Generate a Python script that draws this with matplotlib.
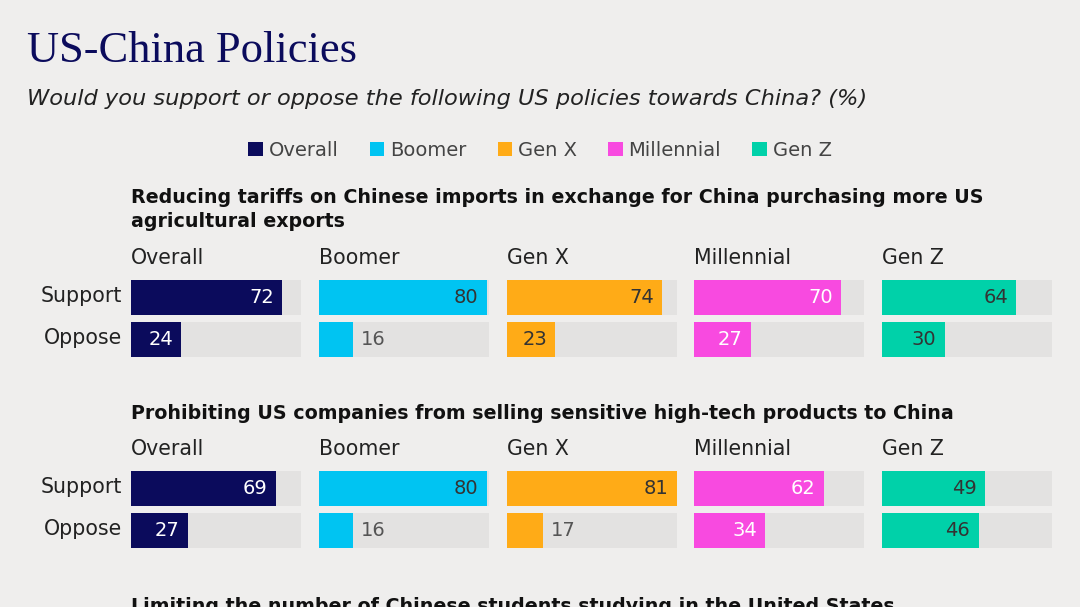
import matplotlib.pyplot as plt
from matplotlib.patches import Patch

groups = ['Overall', 'Boomer', 'Gen X', 'Millennial', 'Gen Z']
answers = ['Support', 'Oppose']
questions = [
    'Reducing tariffs on Chinese imports in exchange for China purchasing more US\nagricultural exports',
    'Prohibiting US companies from selling sensitive high-tech products to China',
    'Limiting the number of Chinese students studying in the United States',
]
# support / oppose per group, one list per question
support = [
    [72, 80, 74, 70, 64],
    [69, 80, 81, 62, 49],
]
oppose = [
    [24, 16, 23, 27, 30],
    [27, 16, 17, 34, 46],
]

colors = ['#0b0b5c', '#00c4f2', '#ffab17', '#f84ae0', '#00d1a9']
text_on_bar = ['white', '#333333', '#333333', 'white', '#333333']
BG = '#efeeed'
TRACK = '#e3e2e1'
W, H = 1080, 607


def fx(px):
    return px / W


def fy(px):
    return 1 - px / H


def main():
    plt.rcParams['font.family'] = ['DejaVu Sans']
    fig = plt.figure(figsize=(W / 100, H / 100), dpi=100, facecolor=BG)

    fig.text(fx(27), fy(51), 'US-China Policies', family='Liberation Serif',
             fontsize=32, color='#0b0b5c', va='center', ha='left')
    fig.text(fx(27), fy(99), 'Would you support or oppose the following US policies towards China? (%)',
             fontsize=16.2, style='italic', color='#222222', va='center', ha='left')

    handles = [Patch(facecolor=c, edgecolor='none') for c in colors]
    leg = fig.legend(handles, groups, loc='center', bbox_to_anchor=(0.5, fy(150)), ncol=5,
                     frameon=False, fontsize=14, handlelength=0.75, handleheight=0.75,
                     handletextpad=0.3, columnspacing=1.6)
    for t in leg.get_texts():
        t.set_color('#444444')

    xmax = max(max(max(s) for s in support), max(max(o) for o in oppose))
    header_y = [197, 413, 606]
    top_y = [280, 471]
    lefts = [131, 319, 507, 694, 882]
    pw = 170

    for qi, q in enumerate(questions):
        fig.text(fx(131), fy(header_y[qi] - 9), q, fontsize=13.7, weight='bold',
                 color='#111111', va='top', ha='left', linespacing=1.35)
        if qi >= len(support):
            continue
        top = top_y[qi]
        for gi, g in enumerate(groups):
            ax = fig.add_axes([fx(lefts[gi]), fy(top + 77), fx(pw), 77 / H])
            ax.set_facecolor('none')
            vals = [support[qi][gi], oppose[qi][gi]]
            ypos = [0, 1]
            ax.barh(ypos, [xmax, xmax], height=35 / 42, color=TRACK)
            ax.barh(ypos, vals, height=35 / 42, color=colors[gi])
            ax.set_xlim(0, xmax)
            ax.set_ylim(1 + 17.5 / 42, -17.5 / 42)
            ax.axis('off')
            for y, v in zip(ypos, vals):
                if v >= 20:
                    ax.text(v - 4, y, str(v), ha='right', va='center', fontsize=14,
                            color=text_on_bar[gi])
                else:
                    ax.text(v + 4, y, str(v), ha='left', va='center', fontsize=14,
                            color='#555555')
            fig.text(fx(lefts[gi]), fy(top - 22), g, fontsize=14.8, color='#222222',
                     va='center', ha='left')
            if gi == 0:
                for y, a in zip([top + 16, top + 58], answers):
                    fig.text(fx(122), fy(y), a, fontsize=14.8, color='#222222',
                             va='center', ha='right')

    fig.savefig('out.png', dpi=100, facecolor=BG)


if __name__ == '__main__':
    main()
